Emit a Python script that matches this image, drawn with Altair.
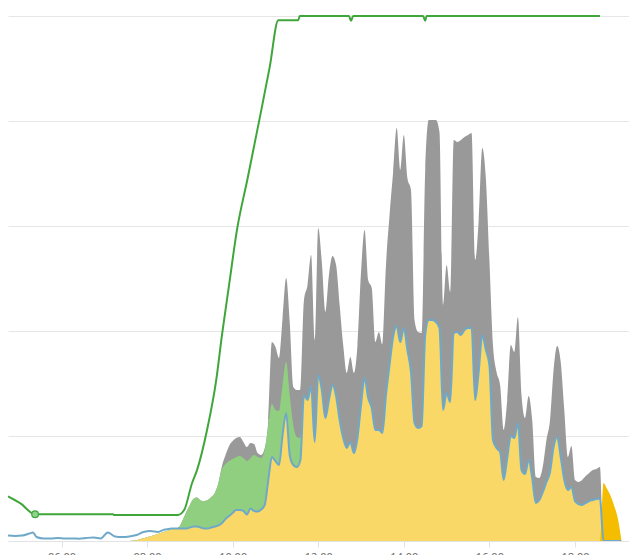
import altair as alt
import pandas as pd

# ---- shared time grid (HH:MM) ----
times = [
    "04:45", "04:55",
    "05:05", "05:15", "05:20", "05:25", "05:35", "05:45", "05:55",
    "06:05", "06:15", "06:25", "06:35", "06:45", "06:55",
    "07:05", "07:15", "07:25", "07:35", "07:45", "07:55",
    "08:05", "08:15", "08:25", "08:30", "08:35", "08:40", "08:45", "08:50", "08:55",
    "09:00", "09:05", "09:10", "09:15", "09:20", "09:25", "09:30", "09:35", "09:40", "09:45", "09:50", "09:55",
    "10:00", "10:05", "10:10", "10:15", "10:20", "10:25", "10:30", "10:35", "10:40", "10:45", "10:50", "10:55",
    "11:00", "11:05", "11:10", "11:15", "11:20", "11:25", "11:30", "11:35", "11:40", "11:45", "11:50", "11:55",
    "12:00", "12:05", "12:10", "12:15", "12:20", "12:25", "12:30", "12:35", "12:40", "12:45", "12:50", "12:55",
    "13:00", "13:05", "13:10", "13:15", "13:20", "13:25", "13:30", "13:35", "13:40", "13:45", "13:50", "13:55",
    "14:00", "14:05", "14:10", "14:15", "14:20", "14:25", "14:30", "14:35", "14:40", "14:45", "14:50", "14:55",
    "15:00", "15:05", "15:10", "15:15", "15:20", "15:25", "15:30", "15:35", "15:40", "15:45", "15:50", "15:55",
    "16:00", "16:05", "16:10", "16:15", "16:20", "16:25", "16:30", "16:35", "16:40", "16:45", "16:50", "16:55",
    "17:00", "17:05", "17:10", "17:15", "17:20", "17:25", "17:30", "17:35", "17:40", "17:45", "17:50", "17:55",
    "18:00", "18:05", "18:10", "18:15", "18:20", "18:25", "18:30", "18:35", "18:40", "18:45", "18:50", "18:55",
    "19:00", "19:05",
]

# household consumption (blue line), kW
load = [
    0.052, 0.048,
    0.052, 0.071, 0.081, 0.038, 0.024, 0.024, 0.029,
    0.024, 0.024, 0.022, 0.029, 0.033, 0.024,
    0.081, 0.043, 0.038, 0.043, 0.057, 0.086,
    0.095, 0.086, 0.110, 0.114, 0.119, 0.119, 0.119, 0.119, 0.119,
    0.129, 0.138, 0.138, 0.129, 0.119, 0.119, 0.129, 0.138, 0.148, 0.171, 0.210, 0.238,
    0.267, 0.295, 0.295, 0.286, 0.252, 0.310, 0.286, 0.281, 0.300, 0.343, 0.581, 0.800,
    0.762, 0.724, 1.010, 1.219, 0.819, 0.724, 0.705, 0.771, 1.390, 1.343, 1.476, 0.943,
    1.581, 1.438, 1.171, 1.343, 1.486, 1.381, 1.152, 0.981, 0.886, 0.943, 0.838, 0.981,
    1.295, 1.552, 1.362, 1.267, 1.057, 1.057, 1.029, 1.390, 1.676, 1.943, 2.048, 1.895,
    2.029, 1.819, 1.610, 1.124, 1.076, 1.095, 1.962, 2.105, 2.105, 2.086, 2.029, 1.248,
    1.410, 1.324, 1.981, 1.990, 1.962, 2.010, 2.029, 2.029, 1.343, 1.610, 1.962, 1.819,
    1.676, 0.962, 0.886, 0.848, 0.581, 0.790, 1.000, 0.981, 1.124, 0.676, 0.638, 0.771,
    0.600, 0.362, 0.390, 0.467, 0.562, 0.657, 0.895, 0.990, 0.800, 0.581, 0.486, 0.514,
    0.381, 0.352, 0.343, 0.362, 0.381, 0.390, 0.400, 0.405, 0.0, 0.0, 0.0, 0.0,
    0.0, 0.0,
]

# total PV production (grey top), kW
pv = [
    0.0, 0.0,
    0.0, 0.0, 0.0, 0.0, 0.0, 0.0, 0.0,
    0.0, 0.0, 0.0, 0.0, 0.0, 0.0,
    0.0, 0.0, 0.0, 0.0, 0.007, 0.026,
    0.045, 0.067, 0.090, 0.100, 0.110, 0.119, 0.133, 0.200, 0.276,
    0.343, 0.400, 0.414, 0.386, 0.381, 0.390, 0.419, 0.457, 0.552, 0.714, 0.819, 0.905,
    0.952, 0.981, 0.990, 0.943, 0.895, 0.933, 0.924, 0.838, 0.819, 0.886, 1.152, 1.895,
    1.848, 1.743, 2.124, 2.505, 2.086, 1.467, 1.438, 1.438, 2.295, 2.438, 2.724, 1.914,
    2.981, 2.657, 2.181, 2.533, 2.714, 2.629, 2.248, 1.867, 1.600, 1.752, 1.600, 1.867,
    2.562, 2.962, 2.486, 2.410, 1.895, 1.990, 1.867, 2.629, 3.105, 3.514, 3.933, 3.533,
    3.867, 3.457, 3.343, 2.105, 1.990, 1.981, 3.533, 4.010, 4.010, 4.010, 3.895, 2.248,
    2.629, 2.371, 3.819, 3.800, 3.819, 3.848, 3.867, 3.886, 2.676, 3.057, 3.743, 3.457,
    2.676, 1.867, 1.610, 1.486, 1.057, 1.343, 1.867, 1.800, 2.133, 1.390, 1.171, 1.381,
    1.152, 0.610, 0.600, 0.714, 0.962, 1.152, 1.629, 1.857, 1.705, 1.248, 0.800, 0.905,
    0.581, 0.562, 0.581, 0.619, 0.648, 0.676, 0.686, 0.705, 0.0, 0.0, 0.0, 0.0,
    0.0, 0.0,
]

# battery charging power (green band), kW
charge = [
    0.0, 0.0,
    0.0, 0.0, 0.0, 0.0, 0.0, 0.0, 0.0,
    0.0, 0.0, 0.0, 0.0, 0.0, 0.0,
    0.0, 0.0, 0.0, 0.0, 0.0, 0.0,
    0.0, 0.0, 0.0, 0.0, 0.0, 0.0, 0.014, 0.081, 0.157,
    0.214, 0.262, 0.276, 0.257, 0.262, 0.271, 0.290, 0.319, 0.405, 0.514, 0.524, 0.524,
    0.514, 0.505, 0.514, 0.505, 0.510, 0.481, 0.533, 0.519, 0.490, 0.524, 0.524, 0.505,
    0.486, 0.514, 0.476, 0.486, 0.571, 0.381, 0.286, 0.210, 0.0, 0.0, 0.0, 0.0,
    0.0, 0.0, 0.0, 0.0, 0.0, 0.0, 0.0, 0.0, 0.0, 0.0, 0.0, 0.0,
    0.0, 0.0, 0.0, 0.0, 0.0, 0.0, 0.0, 0.0, 0.0, 0.0, 0.0, 0.0,
    0.0, 0.0, 0.0, 0.0, 0.0, 0.0, 0.0, 0.0, 0.0, 0.0, 0.0, 0.0,
    0.0, 0.0, 0.0, 0.0, 0.0, 0.0, 0.0, 0.0, 0.0, 0.0, 0.0, 0.0,
    0.0, 0.0, 0.0, 0.0, 0.0, 0.0, 0.0, 0.0, 0.0, 0.0, 0.0, 0.0,
    0.0, 0.0, 0.0, 0.0, 0.0, 0.0, 0.0, 0.0, 0.0, 0.0, 0.0, 0.0,
    0.0, 0.0, 0.0, 0.0, 0.0, 0.0, 0.0, 0.0, 0.0, 0.0, 0.0, 0.0,
    0.0, 0.0,
]

# battery discharging power (gold), kW
discharge = [
    0.0, 0.0,
    0.0, 0.0, 0.0, 0.0, 0.0, 0.0, 0.0,
    0.0, 0.0, 0.0, 0.0, 0.0, 0.0,
    0.0, 0.0, 0.0, 0.0, 0.0, 0.0,
    0.0, 0.0, 0.0, 0.0, 0.0, 0.0, 0.0, 0.0, 0.0,
    0.0, 0.0, 0.0, 0.0, 0.0, 0.0, 0.0, 0.0, 0.0, 0.0, 0.0, 0.0,
    0.0, 0.0, 0.0, 0.0, 0.0, 0.0, 0.0, 0.0, 0.0, 0.0, 0.0, 0.0,
    0.0, 0.0, 0.0, 0.0, 0.0, 0.0, 0.0, 0.0, 0.0, 0.0, 0.0, 0.0,
    0.0, 0.0, 0.0, 0.0, 0.0, 0.0, 0.0, 0.0, 0.0, 0.0, 0.0, 0.0,
    0.0, 0.0, 0.0, 0.0, 0.0, 0.0, 0.0, 0.0, 0.0, 0.0, 0.0, 0.0,
    0.0, 0.0, 0.0, 0.0, 0.0, 0.0, 0.0, 0.0, 0.0, 0.0, 0.0, 0.0,
    0.0, 0.0, 0.0, 0.0, 0.0, 0.0, 0.0, 0.0, 0.0, 0.0, 0.0, 0.0,
    0.0, 0.0, 0.0, 0.0, 0.0, 0.0, 0.0, 0.0, 0.0, 0.0, 0.0, 0.0,
    0.0, 0.0, 0.0, 0.0, 0.0, 0.0, 0.0, 0.0, 0.0, 0.0, 0.0, 0.0,
    0.0, 0.0, 0.0, 0.0, 0.0, 0.0, 0.0, 0.0, 0.552, 0.495, 0.429, 0.333,
    0.219, 0.010,
]

# battery state of charge (green line), %
soc_times = ["04:45", "05:02", "05:23", "07:12", "07:14", "08:43", "08:52", "09:03",
             "09:10", "09:24", "09:37", "09:45", "09:55", "10:06", "10:21", "10:38",
             "10:52", "11:04", "11:32", "11:34", "12:43", "12:46", "12:49", "14:27",
             "14:30", "14:32", "18:35"]
soc = [8.5, 7.2, 5.1, 5.1, 4.95, 4.95, 5.9, 11.0,
       13.5, 21.1, 30.7, 39.2, 48.8, 59.2, 69.1, 80.6,
       90.3, 99.2, 99.2, 100.0, 100.0, 99.1, 100.0, 100.0,
       99.1, 100.0, 100.0]

marker_time = ["05:23"]
marker_soc = [5.1]

tick_hours = [6, 8, 10, 12, 14, 16, 18]
grid_values = [0, 1, 2, 3, 4, 5]


def to_hours(s):
    h, m = s.split(":")
    return int(h) + int(m) / 60.0


df = pd.DataFrame({
    "t": [to_hours(s) for s in times],
    "load": load, "pv": pv, "charge": charge, "discharge": discharge,
})
df["self_use"] = df[["load", "pv"]].min(axis=1)
df["battery_top"] = df["self_use"] + df["charge"]

soc_df = pd.DataFrame({"t": [to_hours(s) for s in soc_times], "soc": soc})
soc_df["y"] = soc_df["soc"] / 20.0
mk_df = pd.DataFrame({"t": [to_hours(s) for s in marker_time], "soc": marker_soc})
mk_df["y"] = mk_df["soc"] / 20.0

W, H = 621, 533
PX_PER_HOUR = 42.79
X0 = 4.7497
X1 = X0 + W / PX_PER_HOUR
YMAX = H / 105.0

xs = alt.Scale(domain=[X0, X1], nice=False, zero=False)
ys = alt.Scale(domain=[0, YMAX], nice=False, zero=False)

x_axis = alt.Axis(values=tick_hours,
                  labelExpr="(datum.value < 10 ? '0' : '') + datum.value + ':00'",
                  grid=False, domain=True, domainColor="#e3e3e3", domainWidth=1,
                  ticks=True, tickColor="#e3e3e3", tickSize=6, labelPadding=4,
                  labelColor="#666666", labelFontSize=11, labelFont="Open Sans",
                  labelBaseline="top", title=None)
y_axis = alt.Axis(values=grid_values, grid=True, gridColor="#e6e6e6", gridWidth=1,
                  labels=False, ticks=False, domain=False, title=None)


def X():
    return alt.X("t:Q", scale=xs, axis=x_axis, title=None)


def Y(field):
    return alt.Y(field, type="quantitative", scale=ys, axis=y_axis, title=None)


grey = alt.Chart(df).mark_area(color="#999999", interpolate="monotone", clip=True).encode(
    x=X(), y=Y("pv"))
green = alt.Chart(df).mark_area(color="#90cf80", interpolate="monotone", clip=True).encode(
    x=X(), y=Y("battery_top"))
yellow = alt.Chart(df).mark_area(color="#f9d867", interpolate="monotone", clip=True).encode(
    x=X(), y=Y("self_use"))
gold = alt.Chart(df).mark_area(color="#f5bd00", interpolate="monotone", clip=True).encode(
    x=X(), y=Y("discharge"))
blue = alt.Chart(df).mark_line(color="#6fa9c9", strokeWidth=2, interpolate="monotone", clip=True).encode(
    x=X(), y=Y("load"))
socline = alt.Chart(soc_df).mark_line(color="#3fa63a", strokeWidth=2, interpolate="monotone", clip=True).encode(
    x=X(), y=Y("y"))
marker = alt.Chart(mk_df).mark_point(shape="circle", size=45, filled=True, fill="#8fd28a",
                                      stroke="#3fa63a", strokeWidth=1.2, opacity=1).encode(
    x=X(), y=Y("y"))

chart = alt.layer(grey, green, yellow, gold, blue, socline, marker).properties(
    width=W, height=H,
    autosize=alt.AutoSizeParams(type="none"),
    padding={"left": 0, "top": 0, "right": 0, "bottom": 14},
    background="white",
).configure_view(stroke=None)

chart.save("out.html", embed_options={"renderer": "svg", "actions": False})
